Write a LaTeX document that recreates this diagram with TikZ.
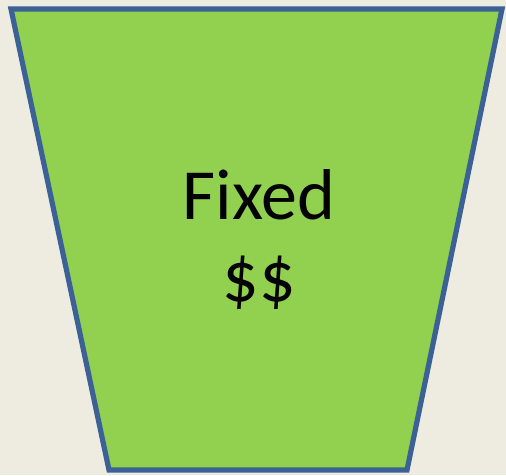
\documentclass[tikz,border=0pt]{standalone}
\usepackage{fontspec}
\setmainfont{Carlito}
\usetikzlibrary{shapes,arrows}
\definecolor{bggray}{HTML}{EEECE1}
\definecolor{bucketgreen}{HTML}{92D050}
\definecolor{bucketblue}{HTML}{3B6196}
\tikzstyle{bucket} = [draw=bucketblue, fill=bucketgreen, line width=2.6pt, line join=miter]
\tikzstyle{label} = [align=center, font=\fontsize{36}{41}\selectfont, text=black]

\begin{document}
\begin{tikzpicture}[x=0.5pt, y=-0.5pt]
    % Background
    \fill [bggray] (0,0) rectangle (506,475);
    \useasboundingbox (0,0) rectangle (506,475);
    % Define the corners
    \coordinate (topleft) at (11,9);
    \coordinate (topright) at (502,9);
    \coordinate (bottomright) at (407,470);
    \coordinate (bottomleft) at (109,470);
    % Draw the bucket
    \draw [bucket] (topleft) -- (topright) -- (bottomright) -- (bottomleft) -- cycle;
    \node [label] (cost) at (259,240) {Fixed\\\$\$};
\end{tikzpicture}
\end{document}
